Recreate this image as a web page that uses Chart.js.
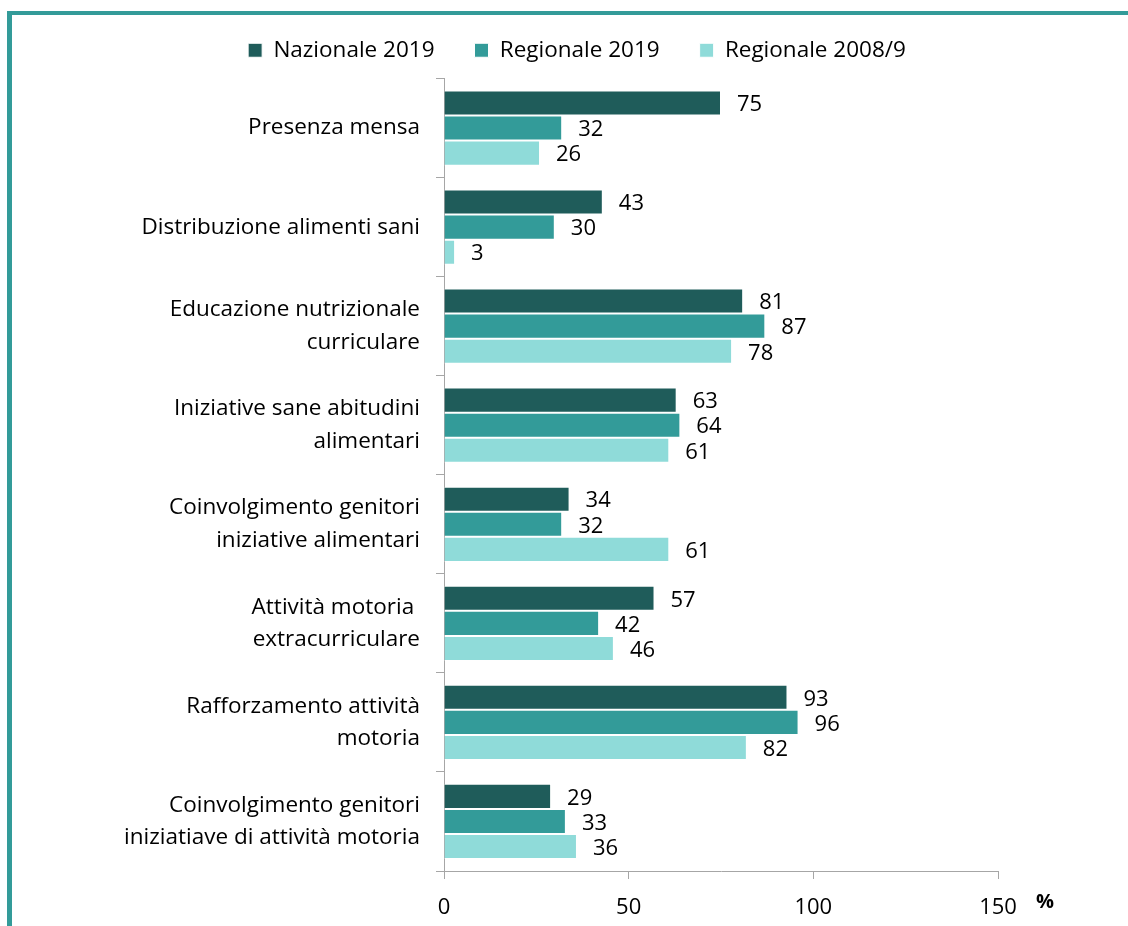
<!DOCTYPE html>
<html>
<head>
<meta charset="utf-8">
<script src="https://cdn.jsdelivr.net/npm/chart.js@4"></script>
<style>
  html, body { margin: 0; padding: 0; background: #fff; }
  #frame {
    position: absolute; left: 7px; top: 11px; width: 1121px; height: 915px;
    border-top: 4px solid #339b99; border-left: 5px solid #339b99;
  }
  #wrap { position: absolute; left: 0; top: 0; width: 1128px; height: 926px; }
</style>
</head>
<body>
<div id="frame"></div>
<div id="wrap"><canvas id="chart-bars" width="1128" height="926"></canvas></div>
<script>
const categories = [
    "Presenza mensa",
    "Distribuzione alimenti sani",
    ["Educazione nutrizionale", "curriculare"],
    ["Iniziative sane abitudini", "alimentari"],
    ["Coinvolgimento genitori", "iniziative alimentari"],
    ["Attività motoria ", "extracurriculare"],
    ["Rafforzamento attività", "motoria"],
    ["Coinvolgimento genitori", "iniziatiave di attività motoria"]
];
const nazionale2019 = [75, 43, 81, 63, 34, 57, 93, 29];
const regionale2019 = [32, 30, 87, 64, 32, 42, 96, 33];
const regionale2008 = [26, 3, 78, 61, 61, 46, 82, 36];
const xTicks = [0, 50, 100, 150];

const FONT = "Open Sans";

// value labels at the end of each bar + the "%" unit next to the x axis
const valueLabels = {
    id: "valueLabels",
    afterDatasetsDraw(chart) {
        const ctx = chart.ctx;
        ctx.save();
        ctx.font = "22px " + FONT;
        ctx.fillStyle = "#000";
        ctx.textBaseline = "middle";
        ctx.textAlign = "left";
        chart.data.datasets.forEach((ds, i) => {
            chart.getDatasetMeta(i).data.forEach((bar, j) => {
                ctx.fillText(ds.data[j], bar.x + 16, bar.y + 2);
            });
        });
        const xs = chart.scales.x;
        ctx.font = "bold 20px " + FONT;
        ctx.fillText("%", xs.right + 38, xs.top + 31);
        ctx.restore();
    }
};

// nudge the legend so it sits where the original one is
const legendShift = {
    id: "legendShift",
    afterLayout(chart) {
        const lg = chart.legend;
        const dx = 18, dy = -7;
        lg.left += dx; lg.right += dx;
        lg.top += dy; lg.bottom += dy;
    }
};

document.addEventListener("DOMContentLoaded", function () {
    const ctx = document.getElementById("chart-bars").getContext("2d");

    new Chart(ctx, {
        type: "bar",
        data: {
            labels: categories,
            datasets: [{
                label: "Nazionale 2019",
                data: nazionale2019,
                backgroundColor: "#1f5c5a",
                borderColor: "#ffffff",
                borderWidth: 1
            }, {
                label: "Regionale 2019",
                data: regionale2019,
                backgroundColor: "#339b99",
                borderColor: "#ffffff",
                borderWidth: 1
            }, {
                label: "Regionale 2008/9",
                data: regionale2008,
                backgroundColor: "#8fdbd9",
                borderColor: "#ffffff",
                borderWidth: 1
            }]
        },
        options: {
            indexAxis: "y",
            responsive: false,
            animation: false,
            categoryPercentage: 0.76,
            barPercentage: 1,
            layout: { padding: { left: 120, right: 130, top: 6, bottom: 0 } },
            plugins: {
                legend: {
                    position: "top",
                    labels: {
                        color: "#000",
                        font: { family: FONT, size: 22.5 },
                        boxWidth: 14,
                        boxHeight: 14,
                        padding: 40
                    }
                },
                tooltip: { enabled: false }
            },
            scales: {
                x: {
                    min: 0,
                    max: 150,
                    afterBuildTicks(scale) {
                        scale.ticks = xTicks.map(v => ({ value: v }));
                    },
                    afterFit(scale) { scale.height = 55; },
                    grid: { drawOnChartArea: false, tickLength: 8, color: "#a6a6a6" },
                    border: { color: "#a6a6a6" },
                    ticks: { color: "#000", font: { family: FONT, size: 22 }, padding: 16 }
                },
                y: {
                    afterFit(scale) { scale.width = 324; },
                    grid: { drawOnChartArea: false, tickLength: 8, color: "#a6a6a6", offset: true },
                    border: { color: "#a6a6a6" },
                    ticks: {
                        color: "#000",
                        font: { family: FONT, size: 22.5, lineHeight: 1.44 },
                        padding: 16
                    }
                }
            }
        },
        plugins: [valueLabels, legendShift]
    });
});
</script>
</body>
</html>
